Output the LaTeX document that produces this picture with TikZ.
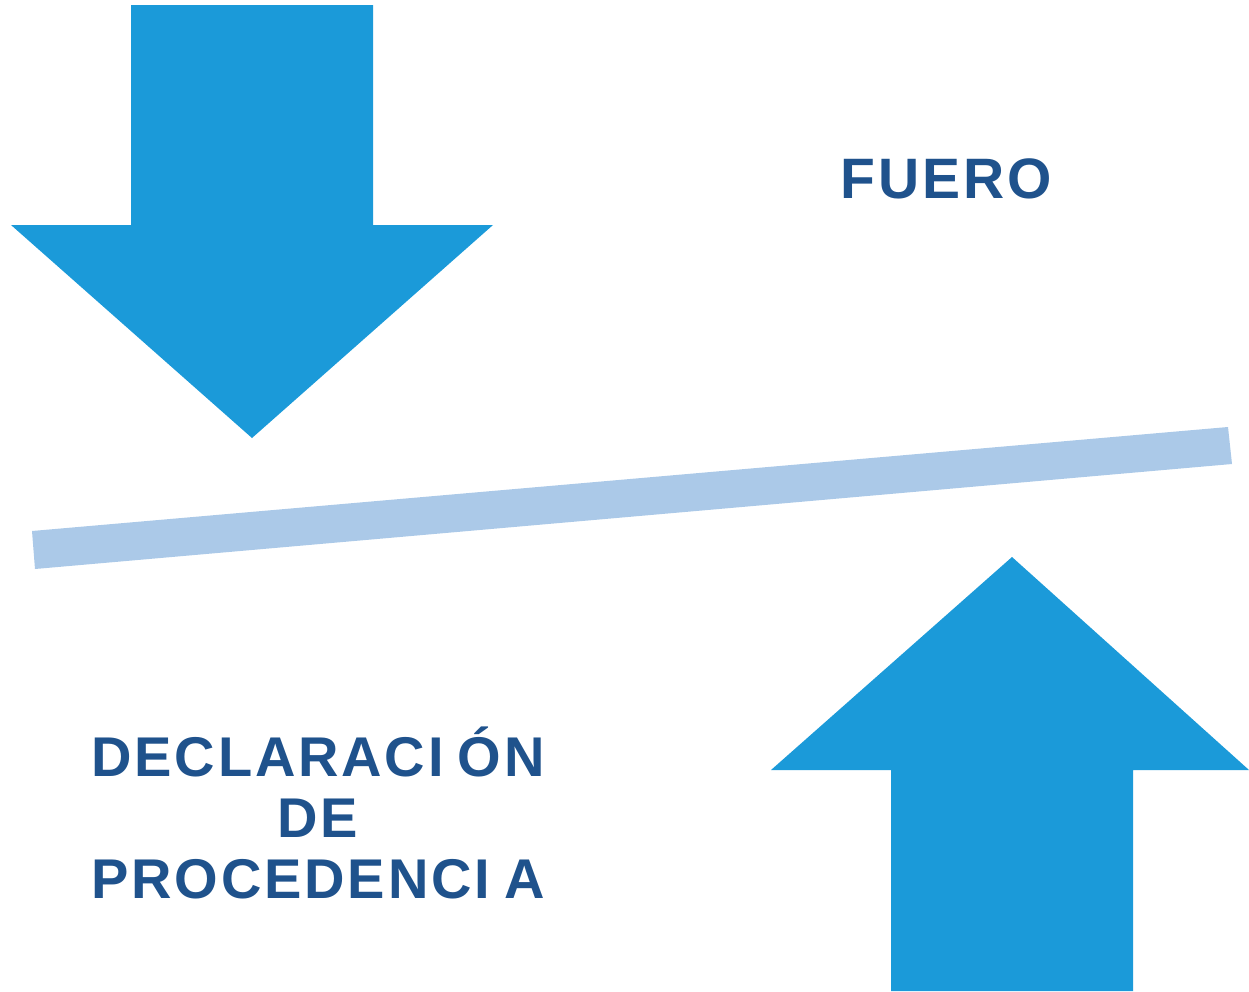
\documentclass[tikz,border=0pt]{standalone}
\usepackage{fontspec}
\setmainfont{Liberation Sans}
\newfontfamily\widefont[LetterSpace=5]{Liberation Sans Bold}
\usepackage{tikz}
\usetikzlibrary{positioning}
\definecolor{arrowblue}{HTML}{1B9AD9}
\definecolor{barblue}{HTML}{ABC9E8}
\definecolor{textblue}{HTML}{1F528C}

\begin{document}
\begin{tikzpicture}[
    x=1pt, y=-1pt,
    bigarrow/.style={fill=arrowblue},
    beam/.style={fill=barblue},
    title/.style={text=textblue, inner sep=0pt, align=center},
]
\useasboundingbox (0,0) rectangle (1249,991);
% falling arrow
\fill[bigarrow] (131,5) -- (373,5) -- (373,225) -- (493,225) -- (252,438)
    -- (11,225) -- (131,225) -- cycle;
% rising arrow
\fill[bigarrow] (891,991) -- (1133,991) -- (1133,770) -- (1249,770) -- (1012,557)
    -- (771,770) -- (891,770) -- cycle;
% tilted beam
\fill[beam] (32,531) -- (1228,427) -- (1232,464) -- (35,569) -- cycle;
\node[title, font=\widefont\fontsize{57}{62}\selectfont, anchor=base] (fuero) at (946,198) {FUERO};
\node[title, font=\widefont\fontsize{56}{61}\selectfont] (declaracion) at (318,813)
    {DECLARACI\kern14pt ÓN\\ DE\\ PROCEDENCI\kern14pt A};
\end{tikzpicture}
\end{document}
